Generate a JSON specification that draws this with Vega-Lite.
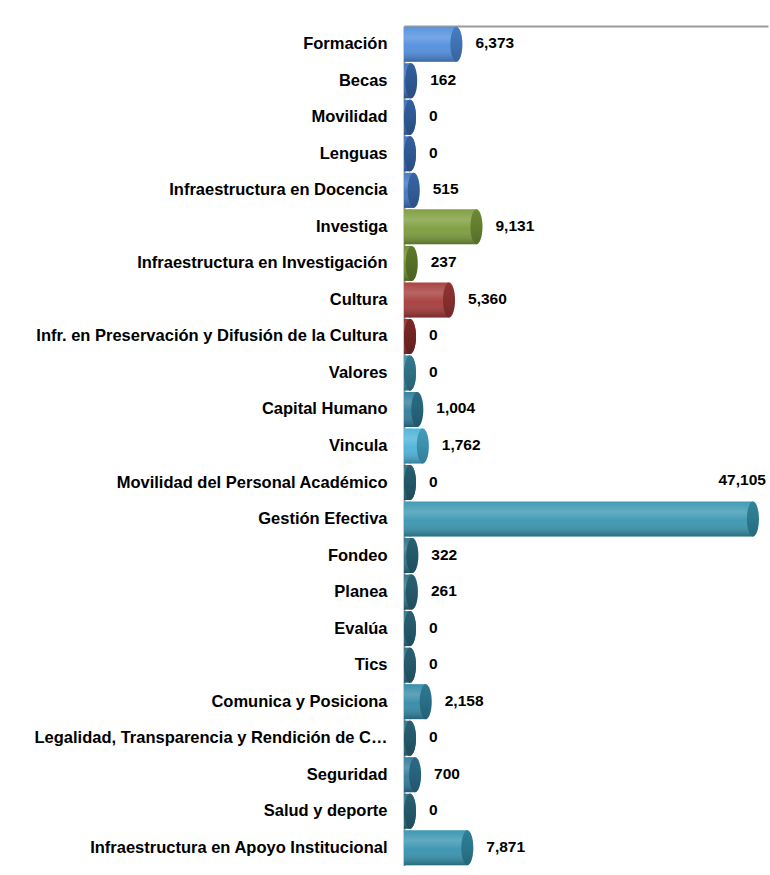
{
  "$schema": "https://vega.github.io/schema/vega-lite/v6.json",
  "width": 364,
  "height": 840,
  "padding": {"left": 33, "top": 26, "right": 1, "bottom": 0},
  "autosize": {"type": "pad"},
  "background": "white",
  "config": {
    "view": {"stroke": null},
    "font": "Liberation Sans"
  },
  "data": {
    "values": [
      {"programa": "Formación", "monto": 6373},
      {"programa": "Becas", "monto": 162},
      {"programa": "Movilidad", "monto": 0},
      {"programa": "Lenguas", "monto": 0},
      {"programa": "Infraestructura en Docencia", "monto": 515},
      {"programa": "Investiga", "monto": 9131},
      {"programa": "Infraestructura en Investigación", "monto": 237},
      {"programa": "Cultura", "monto": 5360},
      {"programa": "Infr. en Preservación y Difusión de la Cultura", "monto": 0},
      {"programa": "Valores", "monto": 0},
      {"programa": "Capital Humano", "monto": 1004},
      {"programa": "Vincula", "monto": 1762},
      {"programa": "Movilidad del Personal Académico", "monto": 0},
      {"programa": "Gestión Efectiva", "monto": 47105},
      {"programa": "Fondeo", "monto": 322},
      {"programa": "Planea", "monto": 261},
      {"programa": "Evalúa", "monto": 0},
      {"programa": "Tics", "monto": 0},
      {"programa": "Comunica y Posiciona", "monto": 2158},
      {"programa": "Legalidad, Transparencia y Rendición de Cuentas", "monto": 0},
      {"programa": "Seguridad", "monto": 700},
      {"programa": "Salud y deporte", "monto": 0},
      {"programa": "Infraestructura en Apoyo Institucional", "monto": 7871}
    ]
  },
  "encoding": {
    "y": {
      "field": "programa",
      "type": "nominal",
      "sort": null,
      "scale": {"paddingInner": 0.04, "paddingOuter": 0.02},
      "axis": {
        "title": null,
        "ticks": false,
        "domain": true,
        "domainColor": "#9a9a9a",
        "domainWidth": 2,
        "labelFont": "Liberation Sans",
        "labelFontWeight": "bold",
        "labelFontSize": 16.5,
        "labelColor": "#000000",
        "labelPadding": 17,
        "labelLimit": 354
      }
    }
  },
  "layer": [
    {
      "mark": {"type": "point", "shape": "M0,-1C0.189,-1,0.343,-0.552,0.343,0C0.343,0.552,0.189,1,0,1C-0.189,1,-0.343,0.552,-0.343,0C-0.343,-0.552,-0.189,-1,0,-1Z", "size": 1225, "filled": true, "opacity": 1, "strokeWidth": 0, "xOffset": 6},
      "encoding": {
        "x": {"datum": 0, "type": "quantitative", "scale": {"domain": [0, 50000]},
          "axis": {"orient": "top", "title": null, "labels": false, "ticks": false, "grid": false, "domain": true, "domainColor": "#9a9a9a", "domainWidth": 2}},
        "color": {"field": "programa", "type": "nominal", "legend": null,
          "scale": {
            "domain": ["Formación", "Becas", "Movilidad", "Lenguas", "Infraestructura en Docencia", "Investiga", "Infraestructura en Investigación", "Cultura", "Infr. en Preservación y Difusión de la Cultura", "Valores", "Capital Humano", "Vincula", "Movilidad del Personal Académico", "Gestión Efectiva", "Fondeo", "Planea", "Evalúa", "Tics", "Comunica y Posiciona", "Legalidad, Transparencia y Rendición de Cuentas", "Seguridad", "Salud y deporte", "Infraestructura en Apoyo Institucional"],
            "range": ["#4f8ede", "#3b6db5", "#3b6db5", "#3b6db5", "#3f73bd", "#7b9c3b", "#6b8a30", "#a53a3a", "#8c2d2d", "#3a8ba2", "#2f7c99", "#4bb2d8", "#2b6d80", "#3896b0", "#2d6e83", "#2d6e83", "#2d6e83", "#2d6e83", "#3489a6", "#2d6e83", "#307a9a", "#2d6e83", "#3592ae"]
          }
        }
      }
    },
    {
      "mark": {"type": "bar", "height": 35, "xOffset": 6},
      "encoding": {
        "x": {"field": "monto", "type": "quantitative"},
        "x2": {"datum": 0},
        "color": {"field": "programa", "type": "nominal", "legend": null}
      }
    },
    {
      "mark": {"type": "bar", "height": 35, "xOffset": 6,
        "color": {"gradient": "linear", "x1": 0, "y1": 0, "x2": 0, "y2": 1,
          "stops": [
            {"offset": 0, "color": "rgba(255,255,255,0.05)"},
            {"offset": 0.3, "color": "rgba(255,255,255,0.22)"},
            {"offset": 0.55, "color": "rgba(255,255,255,0.05)"},
            {"offset": 1, "color": "rgba(0,0,0,0.28)"}
          ]}},
      "encoding": {
        "x": {"field": "monto", "type": "quantitative"},
        "x2": {"datum": 0}
      }
    },
    {
      "mark": {"type": "point", "shape": "M0,-1C0.189,-1,0.343,-0.552,0.343,0C0.343,0.552,0.189,1,0,1C-0.189,1,-0.343,0.552,-0.343,0C-0.343,-0.552,-0.189,-1,0,-1Z", "size": 1225, "filled": true, "opacity": 1, "strokeWidth": 0, "xOffset": 6},
      "encoding": {
        "x": {"field": "monto", "type": "quantitative"},
        "color": {"field": "programa", "type": "nominal", "legend": null}
      }
    },
    {
      "mark": {"type": "point", "shape": "M0,-1C0.189,-1,0.343,-0.552,0.343,0C0.343,0.552,0.189,1,0,1C-0.189,1,-0.343,0.552,-0.343,0C-0.343,-0.552,-0.189,-1,0,-1Z", "size": 1225, "filled": true, "opacity": 1, "strokeWidth": 0, "xOffset": 6,
        "color": {"gradient": "linear", "x1": 0, "y1": 0, "x2": 0, "y2": 1,
          "stops": [
            {"offset": 0, "color": "rgba(0,0,0,0.12)"},
            {"offset": 0.5, "color": "rgba(0,0,0,0.2)"},
            {"offset": 1, "color": "rgba(0,0,0,0.3)"}
          ]}},
      "encoding": {
        "x": {"field": "monto", "type": "quantitative"}
      }
    },
    {
      "transform": [{"filter": "datum.monto < 40000"}],
      "mark": {"type": "text", "align": "left", "baseline": "middle", "dx": 25, "dy": -1, "fontSize": 15.5, "fontWeight": "bold", "font": "Liberation Sans", "color": "#000000"},
      "encoding": {
        "x": {"field": "monto", "type": "quantitative"},
        "text": {"field": "monto", "type": "quantitative", "format": ","}
      }
    },
    {
      "transform": [{"filter": "datum.monto >= 40000"}],
      "mark": {"type": "text", "align": "right", "baseline": "middle", "dx": 19, "dy": -39, "fontSize": 15.5, "fontWeight": "bold", "font": "Liberation Sans", "color": "#000000"},
      "encoding": {
        "x": {"field": "monto", "type": "quantitative"},
        "text": {"field": "monto", "type": "quantitative", "format": ","}
      }
    }
  ]
}
